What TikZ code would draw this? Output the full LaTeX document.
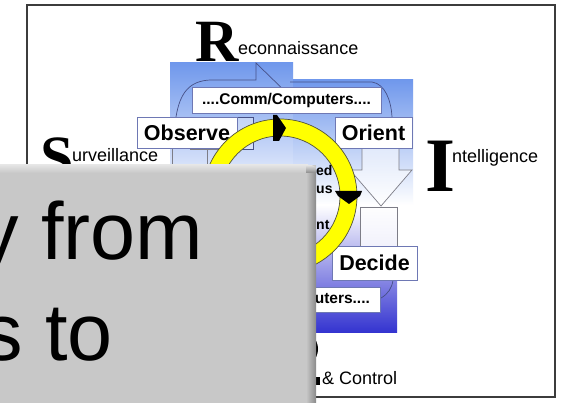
\documentclass[tikz,border=0pt]{standalone}
\usepackage{fontspec}
\setmainfont{Liberation Sans}
\newfontfamily\bigserif{Liberation Serif}
\definecolor{bluetop}{RGB}{112,152,236}
\definecolor{bluebot}{RGB}{52,52,208}
\definecolor{boxline}{RGB}{110,120,180}
\definecolor{cloudline}{RGB}{70,80,135}
\definecolor{arrowline}{RGB}{125,125,135}
\definecolor{framec}{RGB}{60,60,60}
\definecolor{ovl}{RGB}{200,200,200}
\definecolor{ovldark}{RGB}{138,138,138}
\definecolor{ovllight}{RGB}{228,228,228}
\definecolor{ringyellow}{RGB}{255,255,0}
\definecolor{ringline}{RGB}{80,80,60}
\begin{document}
\begin{tikzpicture}[x=1pt,y=-1pt,
  box/.style={draw=boxline, fill=white, line width=0.8pt, inner sep=0pt},
  lbl/.style={font=\fontsize{21.5}{24}\selectfont\bfseries},
  commlbl/.style={font=\fontsize{15.5}{18}\selectfont\bfseries},
  txt/.style={inner sep=0pt, anchor=base west, font=\fontsize{18}{20}\selectfont},
  bigletter/.style={inner sep=0pt, anchor=base west},
  outl/.style={draw=cloudline, line width=0.7pt},
  arr/.style={draw=arrowline, line width=0.7pt},
  ringtxt/.style={inner sep=0pt, anchor=base west, font=\fontsize{14}{16}\selectfont\bfseries},
  ovltxt/.style={inner sep=0pt, anchor=base west, font=\fontsize{81}{81}\selectfont}]
\useasboundingbox (0,0) rectangle (562,403);
\clip (0,0) rectangle (562,403);
\fill[white] (0,0) rectangle (562,403);
% frame
\draw[framec, line width=1.5pt] (27,5) rectangle (555,397);
% blue backgrounds
\shade[top color=bluetop, bottom color=white] (170,63) rectangle (293,205);
\shade[top color=bluetop, bottom color=white] (293,80) rectangle (413,205);
\shade[top color=white, bottom color=bluebot] (170,205) rectangle (397,332);
% cloud outlines
\draw[outl] (176,117) .. controls (180,92) and (190,81) .. (210,80) -- (256,80) -- (256,63) -- (292,98);
\draw[outl] (290,82) -- (372,82) .. controls (385,84) and (391,100) .. (392,117);
\draw[outl] (393,280) .. controls (392,288) and (388,294) .. (381,298);
% shapes below Observe
\draw[outl, fill=white, fill opacity=0.35] (237,117) rectangle (253,149);
\draw[arr] (190,149) -- (237,149);
\draw[arr] (172,148) -- (172,168) (207,149) -- (207,168);
% down arrow from Orient
\draw[arr, fill=white, fill opacity=0.55] (362,148) -- (362,170) -- (350,170) -- (381,206) -- (412,170) -- (399,170) -- (399,148);
\draw[arr, fill=white, fill opacity=0.8] (360,207) rectangle (397,247);
% boxes
\node[box, minimum width=189pt, minimum height=26pt, commlbl] (commtop) at (286.5,100) {....Comm/Computers....};
\node[box, minimum width=100pt, minimum height=31pt, lbl] (observe) at (187,132.5) {Observe};
\node[box, minimum width=77pt, minimum height=31pt, lbl] (orient) at (373.5,132.5) {Orient};
\node[box, minimum width=85pt, minimum height=34pt, lbl] (decide) at (374.5,263) {Decide};
\node[box, minimum width=189pt, minimum height=25pt, commlbl] (commbot) at (285.5,299.5) {....Comm/Computers....};
% ring
\fill[ringyellow, even odd rule] (280,196) circle (77) (280,196) circle (60);
\draw[ringline, line width=0.7pt] (280,196) circle (77) (280,196) circle (60);
\fill[black] (273,115) -- (277,115) -- (286,128) -- (279,141) -- (273,141) -- cycle;
\fill[black] (335,191) -- (362,191) -- (360,196) -- (349,204) -- (338,196) -- cycle;
% ring centre text
\node[ringtxt] (l1) at (316,176) {ed};
\node[ringtxt] (l2) at (316,194) {us};
\node[ringtxt] (l3) at (316,230) {nt};
% letters
\node[bigletter, font=\fontsize{60}{60}\selectfont\bigserif\bfseries] (rbig) at (195,62) {R};
\node[txt] (recon) at (238,55) {econnaissance};
\node[bigletter, font=\fontsize{77}{77}\selectfont\bigserif\bfseries] (ibig) at (425,192) {I};
\node[txt] (intel) at (452,163) {ntelligence};
\node[bigletter, font=\fontsize{60}{60}\selectfont\bigserif\bfseries] (sbig) at (40,178) {S};
\node[txt] (surv) at (72,162) {urveillance};
\node[txt] (ctrl) at (322,384) {\& Control};
\fill[black] (312,336) .. controls (320,342) and (320,356) .. (312,362) -- (311,360) .. controls (315,354) and (315,344) .. (311,338) -- cycle;
\fill[black] (315,377) rectangle (320,385);
% overlay
\fill[ovl] (0,165) rectangle (316,403);
\shade[top color=ovllight, bottom color=ovl] (0,165) rectangle (308,173);
\shade[left color=ovl, right color=ovldark] (306,170) rectangle (316,403);
\shade[top color=ovllight, bottom color=ovldark] (306,165) -- (310,165) .. controls (314,165) and (316,167) .. (316,171) -- (316,173) -- (306,173) -- cycle;
\node[ovltxt] (t1) at (-22,260) {y from};
\node[ovltxt] (t2) at (-18,360) {s to};
\end{tikzpicture}
\end{document}
